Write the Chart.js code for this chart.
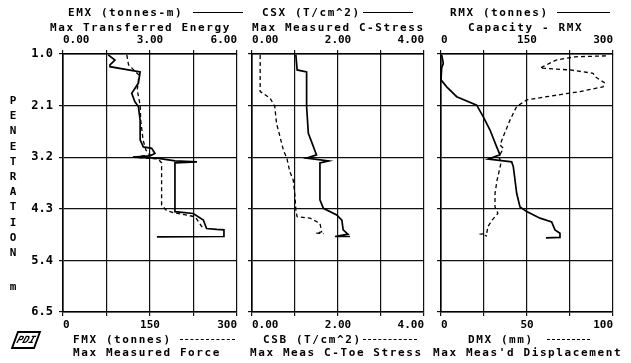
<!DOCTYPE html>
<html>
<head>
<meta charset="utf-8">
<script src="https://cdn.jsdelivr.net/npm/chart.js@4.4.1/dist/chart.umd.min.js"></script>
<style>
body{margin:0;background:#fff;width:631px;height:363px;position:relative;overflow:hidden;font-family:'DejaVu Sans Mono',monospace;font-weight:bold;color:#000}
canvas{position:absolute;left:0;top:0}
.t{position:absolute;font-size:11px;letter-spacing:1.6px;white-space:pre;line-height:12px}
.ln{position:absolute;height:0;border-top:1.5px solid #000}
.dl{border-top:1.5px dashed #000}
.v{position:absolute;left:8px;width:10px;text-align:center;font-size:11px;line-height:12px}
.logo{position:absolute;left:14px;top:331px;width:20px;height:14px;border:2px solid #000;transform:skewX(-20deg);font-size:10px;font-style:italic;line-height:14px;text-align:center;letter-spacing:0}
</style>
</head>
<body>
<canvas id="c1" width="631" height="363"></canvas>
<canvas id="c2" width="631" height="363"></canvas>
<canvas id="c3" width="631" height="363"></canvas>

<div class="t" style="left:68px;top:7px">EMX (tonnes-m)</div>
<div class="ln" style="left:193px;width:50px;top:12px"></div>
<div class="t" style="left:262px;top:7px">CSX (T/cm^2)</div>
<div class="ln" style="left:363px;width:50px;top:12px"></div>
<div class="t" style="left:450px;top:7px">RMX (tonnes)</div>
<div class="ln" style="left:557px;width:53px;top:12px"></div>
<div class="t" style="left:50px;top:22px">Max Transferred Energy</div>
<div class="t" style="left:252px;top:22px">Max Measured C-Stress</div>
<div class="t" style="left:468px;top:22px">Capacity - RMX</div>

<div class="t" style="left:73px;top:334px">FMX (tonnes)</div>
<div class="ln dl" style="left:180px;width:55px;top:339px"></div>
<div class="t" style="left:263px;top:334px">CSB (T/cm^2)</div>
<div class="ln dl" style="left:363px;width:54px;top:339px"></div>
<div class="t" style="left:468px;top:334px">DMX (mm)</div>
<div class="ln dl" style="left:547px;width:43px;top:339px"></div>
<div class="t" style="left:73px;top:347px">Max Measured Force</div>
<div class="t" style="left:250px;top:347px">Max Meas C-Toe Stress</div>
<div class="t" style="left:433px;top:347px">Max Meas'd Displacement</div>

<div class="logo">PDI</div>
<div id="side"></div>

<script>
'use strict';

// depth axis (m), shared by the three panels
let depthTicks = [1.0, 2.1, 3.2, 4.3, 5.4, 6.5];

// EMX (tonnes-m), solid, top scale of panel 1
let emxDepth = [1.02,1.13,1.23,1.27,1.38,1.62,1.84,2.02,2.12,2.41,2.83,2.98,3.01,3.12,3.17,3.20,3.22,3.28,3.30,3.32,4.36,4.40,4.54,4.72,4.74,4.75,4.89,4.90];
let emxValue = [1.56,1.79,1.62,1.62,2.66,2.60,2.37,2.48,2.60,2.66,2.66,2.77,3.06,3.17,3.00,2.41,3.24,3.86,4.62,3.86,3.86,4.49,4.84,4.95,5.30,5.55,5.55,3.24];
// FMX (tonnes), dashed, bottom scale of panel 1
let fmxDepth = [1.02,1.23,1.45,1.77,2.09,2.41,2.83,3.05,3.15,3.20,3.24,3.32,4.22,4.33,4.38,4.47,4.62,4.71];
let fmxValue = [110,113,131,128,133,134,138,143,150,124,164,170,170,178,190,228,236,241];

// CSX (T/cm^2), solid
let csxDepth = [1.02,1.34,1.38,2.12,2.69,2.98,3.15,3.22,3.28,3.32,4.11,4.29,4.43,4.54,4.75,4.84,4.89,4.89];
let csxValue = [1.02,1.05,1.27,1.27,1.31,1.43,1.50,1.27,1.78,1.58,1.58,1.66,1.97,2.09,2.12,2.23,1.93,2.28];
// CSB (T/cm^2), dashed
let csbDepth = [1.02,1.80,1.94,2.12,2.48,2.76,3.05,3.22,3.51,3.69,4.04,4.33,4.47,4.50,4.61,4.79,4.82,4.83];
let csbValue = [0.19,0.19,0.42,0.53,0.57,0.65,0.73,0.81,0.88,0.96,1.00,1.02,1.05,1.35,1.58,1.62,1.49,1.67];

// RMX (tonnes), solid
let rmxDepth = [1.02,1.20,1.30,1.55,1.70,1.91,2.09,2.34,2.62,2.98,3.15,3.24,3.30,3.40,3.69,3.97,4.26,4.36,4.50,4.58,4.75,4.82,4.91,4.92];
let rmxValue = [1.2,4,1.2,0,9.9,27.4,62.3,73.8,85.5,97.1,102.9,82.5,123.3,126.1,129.1,132,137.8,149.5,172.7,193,198.8,207.5,207.5,183];
// DMX (mm), dashed
let dmxDepth = [1.04,1.06,1.13,1.30,1.34,1.41,1.48,1.62,1.70,1.80,1.91,1.98,2.12,2.41,2.76,2.94,3.01,3.19,3.32,3.69,3.97,4.26,4.40,4.54,4.68,4.82,4.84,4.88];
let dmxValue = [95.9,77.9,66.9,57.6,75,88.4,89.5,95.3,94.2,80.8,61.5,49.8,44,40.1,36.2,34.3,36.2,33.7,34.9,32.6,31.4,31.4,33.1,29.7,27.3,26.6,23.3,26.7];

// x tick values and labels
let emxTicks = [0, 1.5, 3, 4.5, 6];
let emxLabels = ['0.00', '', '3.00', '', '6.00'];
let fmxTicks = [0, 75, 150, 225, 300];
let fmxLabels = ['0', '', '150', '', '300'];
let csTicks = [0, 1, 2, 3, 4];
let csLabels = ['0.00', '', '2.00', '', '4.00'];
let rmxTicks = [0, 75, 150, 225, 300];
let rmxLabels = ['0', '', '150', '', '300'];
let dmxTicks = [0, 25, 50, 75, 100];
let dmxLabels = ['0', '', '50', '', '100'];

let sideLetters = ['P','E','N','E','T','R','A','T','I','O','N'];

let side = document.getElementById('side');
for (let i = 0; i < sideLetters.length; i++) {
    let d = document.createElement('div');
    d.className = 'v';
    d.style.top = (95 + i * 15.2) + 'px';
    d.textContent = sideLetters[i];
    side.appendChild(d);
}
let mDiv = document.createElement('div');
mDiv.className = 'v';
mDiv.style.top = '281px';
mDiv.textContent = 'm';
side.appendChild(mDiv);

function toPoints(depths, values) {
    let pts = [];
    for (let i = 0; i < depths.length; i++) {
        pts.push({x: values[i], y: depths[i]});
    }
    return pts;
}

let tickFont = {family: 'DejaVu Sans Mono', size: 11, weight: 'bold'};

function xAxis(pos, ticks, labels) {
    return {
        type: 'linear',
        position: pos,
        min: ticks[0],
        max: ticks[ticks.length - 1],
        afterBuildTicks: function(scale) {
            scale.ticks = ticks.map(function(v) { return {value: v}; });
        },
        afterFit: function(scale) { scale.height = 20; },
        grid: {
            color: '#111',
            lineWidth: 1.2,
            tickLength: 4,
            drawOnChartArea: pos === 'bottom'
        },
        border: {color: '#000', width: 1.6},
        ticks: {
            color: '#000',
            font: tickFont,
            padding: 3,
            align: 'inner',
            autoSkip: false,
            maxRotation: 0,
            callback: function(v, i) { return labels[i]; }
        }
    };
}

function makePanel(id, left, right, showDepth, solid, dashed, topT, topL, botT, botL) {
    let ctx = document.getElementById(id).getContext('2d');
    return new Chart(ctx, {
        type: 'scatter',
        data: {
            datasets: [{
                data: solid,
                xAxisID: 'xTop',
                showLine: true,
                borderColor: '#000',
                borderWidth: 1.7,
                pointRadius: 0,
                tension: 0
            }, {
                data: dashed,
                xAxisID: 'xBottom',
                showLine: true,
                borderColor: '#000',
                borderWidth: 1.3,
                borderDash: [4, 3],
                pointRadius: 0,
                tension: 0
            }]
        },
        options: {
            responsive: false,
            animation: false,
            layout: {padding: {left: showDepth ? left - 40 : left, right: 631 - right, top: 34, bottom: 31}},
            plugins: {legend: {display: false}, tooltip: {enabled: false}},
            scales: {
                xTop: xAxis('top', topT, topL),
                xBottom: xAxis('bottom', botT, botL),
                y: {
                    type: 'linear',
                    reverse: true,
                    min: 1.0,
                    max: 6.5,
                    afterBuildTicks: function(scale) {
                        scale.ticks = depthTicks.map(function(v) { return {value: v}; });
                    },
                    afterFit: function(scale) { scale.width = showDepth ? 40 : 0; },
                    grid: {color: '#111', lineWidth: 1.2, tickLength: 4},
                    border: {color: '#000', width: 1.6},
                    ticks: {
                        display: showDepth,
                        color: '#000',
                        font: {family: 'DejaVu Sans Mono', size: 12, weight: 'bold'},
                        padding: 6,
                        callback: function(v) { return Number(v).toFixed(1); }
                    }
                }
            }
        }
    });
}

makePanel('c1', 63, 237, true, toPoints(emxDepth, emxValue), toPoints(fmxDepth, fmxValue), emxTicks, emxLabels, fmxTicks, fmxLabels);
makePanel('c2', 252, 424, false, toPoints(csxDepth, csxValue), toPoints(csbDepth, csbValue), csTicks, csLabels, csTicks, csLabels);
makePanel('c3', 441, 613, false, toPoints(rmxDepth, rmxValue), toPoints(dmxDepth, dmxValue), rmxTicks, rmxLabels, dmxTicks, dmxLabels);
</script>
</body>
</html>
